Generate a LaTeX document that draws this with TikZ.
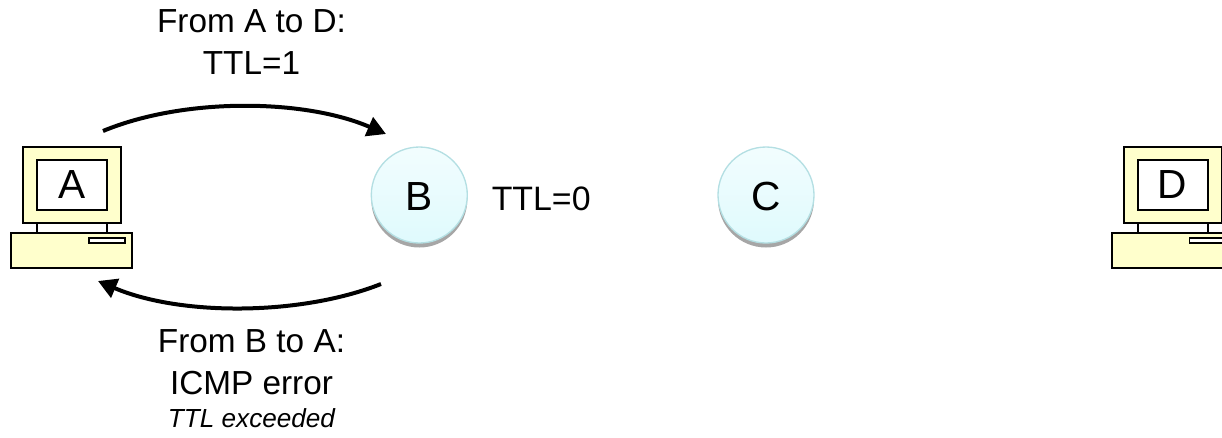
\documentclass[tikz,border=0pt]{standalone}
\usepackage{fontspec}
\setmainfont{Liberation Sans}
\usetikzlibrary{arrows.meta,positioning}
\definecolor{pcfill}{HTML}{FFFFCC}
\definecolor{rimcol}{HTML}{B4DFE3}
\definecolor{shadowcol}{HTML}{A6A6A6}
\definecolor{nodetop}{HTML}{F2FDFE}
\definecolor{nodebot}{HTML}{DFFAFD}
\tikzset{
  x=0.75pt,y=-0.75pt,
  pcpart/.style={draw=black,line width=1.5pt,fill=pcfill,rectangle,inner sep=0pt,outer sep=0pt},
  pcscreen/.style={pcpart,fill=white,minimum width=52.5pt,minimum height=37.9pt,font=\fontsize{30.5}{32}\selectfont},
  pcmonitor/.style={pcpart,minimum width=73.5pt,minimum height=56.6pt},
  pcbase/.style={pcpart,minimum width=91pt,minimum height=25.9pt},
  pcslot/.style={pcpart,fill=white,line width=1.1pt,minimum width=27pt,minimum height=3.8pt},
  router/.style={circle,draw=rimcol,line width=1pt,top color=nodetop,bottom color=nodebot,minimum size=72pt,inner sep=0pt,font=\fontsize{30.5}{32}\selectfont},
  routershadow/.style={circle,fill=shadowcol,minimum size=72pt,inner sep=0pt},
  msg/.style={line width=3pt,-{Triangle[length=14pt,width=15pt]}},
  lbl/.style={align=center,inner sep=0pt,font=\fontsize{25}{31.5}\selectfont},
}
\begin{document}
\begin{tikzpicture}
\useasboundingbox (0,0) rectangle (1222,437);
\clip (0,0) rectangle (1222,437);
% computer A
\draw[pcpart,line width=1.5pt] (37,222) -- (37,233) (107,222) -- (107,233);
\node[pcmonitor] (monA) at (72,185) {};
\node[pcscreen] (scrA) at (72,185) {A};
\node[pcbase] (baseA) at (71.7,250.3) {};
\node[pcslot] (slotA) at (107,240.5) {};
% computer D
\draw[pcpart,line width=1.5pt] (1138,222) -- (1138,233) (1207.5,222) -- (1207.5,233);
\node[pcmonitor] (monD) at (1172.5,185) {};
\node[pcscreen] (scrD) at (1172.5,185) {D};
\node[pcbase] (baseD) at (1172.2,250.3) {};
\node[pcslot] (slotD) at (1207.5,240.5) {};
% routers
\node[routershadow] (shB) at (419.3,199.5) {};
\node[router] (B) at (419.3,195) {\raisebox{-1pt}[\height][0pt]{B}};
\node[routershadow] (shC) at (766,199.5) {};
\node[router] (C) at (766,195) {\raisebox{-1pt}[\height][0pt]{C}};
% labels
\node[lbl,anchor=north] (top) at (251.5,9) {From A to D:\\TTL=1};
\node[lbl,anchor=base west,font=\fontsize{25.4}{30}\selectfont] (ttl) at (491.5,210) {TTL=0};
\node[lbl,anchor=north] (bot) at (251.5,329) {From B to A:\\ICMP error\\[-6.5pt]{\fontsize{19.6}{22}\selectfont\itshape TTL exceeded}};
% connectors
\coordinate (a1) at (103,131);
\coordinate (b1) at (386,134);
\coordinate (b2) at (381,284);
\coordinate (a2) at (98,281);
\draw[msg] (a1) .. controls (185,97) and (305,99) .. (b1);
\draw[msg] (b2) .. controls (300,316) and (180,316) .. (a2);
\end{tikzpicture}
\end{document}
